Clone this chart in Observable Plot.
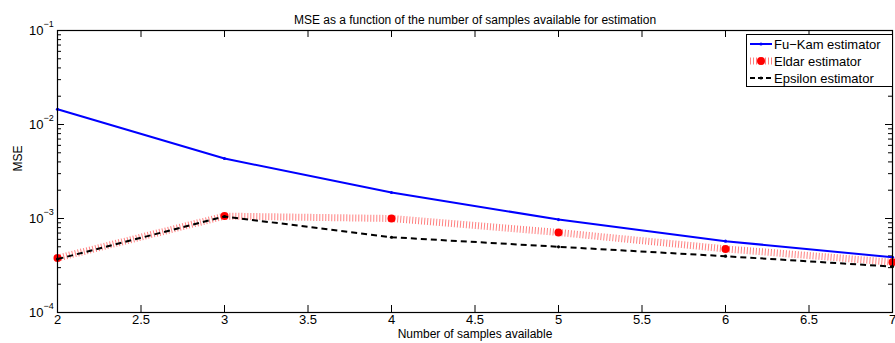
<!DOCTYPE html>
<html>
<head>
<meta charset="utf-8">
<script src="https://cdn.jsdelivr.net/npm/d3@7"></script>
<script src="https://cdn.jsdelivr.net/npm/@observablehq/plot@0.6"></script>
<style>
  body { margin: 0; background: #fff; }
  #wrap { position: relative; width: 895px; height: 343px; font-family: "Liberation Sans", Arial, sans-serif; }
  #legend { position: absolute; left: 746px; top: 34px; }
</style>
</head>
<body>
<div id="wrap"></div>
<script>
const samples = [2, 3, 4, 5, 6, 7];
const fuKam   = [0.0145, 0.00435, 0.00189, 0.000975, 0.000574, 0.000387];
const eldar   = [0.000379, 0.00106, 0.00100, 0.000710, 0.000475, 0.000343];
const epsilon = [0.000370, 0.00105, 0.000632, 0.000500, 0.000397, 0.000308];
const seriesNames = ["Fu\u2212Kam estimator", "Eldar estimator", "Epsilon estimator"];
const xTicks = [2, 2.5, 3, 3.5, 4, 4.5, 5, 5.5, 6, 6.5, 7];
const yTicks = [1e-4, 1e-3, 1e-2, 1e-1];
const yExponents = ["\u22124", "\u22123", "\u22122", "\u22121"];
const titleText = "MSE as a function of the number of samples available for estimation";
const xLabel = "Number of samples available";
const yLabel = "MSE";

const W = 895, H = 343, mL = 57, mR = 3, mT = 30, mB = 31;
const fw = W - mL - mR, fh = H - mT - mB;

const rows = samples.map((s, i) => ({x: s, fuKam: fuKam[i], eldar: eldar[i], epsilon: epsilon[i]}));
const minor = [];
for (let e = -4; e < -1; e++) for (let k = 2; k <= 9; k++) minor.push(k * Math.pow(10, e));
const yTickRows = yTicks.map((v, i) => ({v, e: yExponents[i]}));

const chart = Plot.plot({
  width: W, height: H,
  marginLeft: mL, marginRight: mR, marginTop: mT, marginBottom: mB,
  style: {fontFamily: "'Liberation Sans', Arial, sans-serif", background: "#fff", color: "#000"},
  x: {domain: [2, 7], axis: null},
  y: {type: "log", domain: [1e-4, 1e-1], axis: null},
  marks: [
    // ticks (inward, on all four sides)
    Plot.tickX(xTicks, {x: d => d, insetTop: fh - 7, stroke: "#000", strokeWidth: 1}),
    Plot.tickX(xTicks, {x: d => d, insetBottom: fh - 7, stroke: "#000", strokeWidth: 1}),
    Plot.tickY(yTicks, {y: d => d, insetRight: fw - 7, stroke: "#000", strokeWidth: 1}),
    Plot.tickY(yTicks, {y: d => d, insetLeft: fw - 7, stroke: "#000", strokeWidth: 1}),
    Plot.tickY(minor, {y: d => d, insetRight: fw - 4, stroke: "#000", strokeWidth: 1}),
    Plot.tickY(minor, {y: d => d, insetLeft: fw - 4, stroke: "#000", strokeWidth: 1}),
    // series
    Plot.line(rows, {x: "x", y: "fuKam", stroke: "#0000ff", strokeWidth: 2}),
    Plot.dot(rows, {x: "x", y: "fuKam", r: 1.6, fill: "#0000ff"}),
    Plot.line(rows, {x: "x", y: "eldar", stroke: "#ff8080", strokeWidth: 7, strokeDasharray: "1,2", strokeLinecap: "butt", strokeLinejoin: "miter"}),
    Plot.dot(rows, {x: "x", y: "eldar", r: 4, fill: "#ff0000"}),
    Plot.line(rows, {x: "x", y: "epsilon", stroke: "#000", strokeWidth: 2, strokeDasharray: "6,4", strokeLinecap: "butt"}),
    Plot.dot(rows, {x: "x", y: "epsilon", r: 1.6, fill: "#000"}),
    Plot.frame({stroke: "#000", strokeWidth: 1.2}),
    // axis labels
    Plot.text(xTicks, {x: d => d, text: d => String(d), frameAnchor: "bottom", dy: 11, fontSize: 13}),
    Plot.text(yTickRows, {y: "v", text: () => "10", frameAnchor: "left", dx: -14, textAnchor: "end", fontSize: 13}),
    Plot.text(yTickRows, {y: "v", text: "e", frameAnchor: "left", dx: -14, dy: -6, textAnchor: "start", fontSize: 9}),
    Plot.text([titleText], {text: d => d, frameAnchor: "top", dy: -15, fontSize: 12}),
    Plot.text([xLabel], {text: d => d, frameAnchor: "bottom", dy: 25, fontSize: 12}),
    Plot.text([yLabel], {text: d => d, frameAnchor: "left", dx: -39, rotate: -90, fontSize: 12})
  ]
});
const wrap = document.getElementById("wrap");
wrap.appendChild(chart);

// legend overlay
const lw = 147, lh = 53;
const leg = d3.create("svg").attr("id", "legend").attr("width", lw).attr("height", lh)
  .style("font-family", "'Liberation Sans', Arial, sans-serif");
leg.append("rect").attr("x", 0.5).attr("y", 0.5).attr("width", lw - 1).attr("height", lh - 1)
  .attr("fill", "#fff").attr("stroke", "#000").attr("stroke-width", 1);
const styles = [
  {stroke: "#0000ff", w: 2, dash: null, dot: {r: 1.6, fill: "#0000ff"}},
  {stroke: "#ff8080", w: 7, dash: "1,2", dot: {r: 4, fill: "#ff0000"}},
  {stroke: "#000", w: 2, dash: "5,3", dot: {r: 1.6, fill: "#000"}}
];
seriesNames.forEach((name, i) => {
  const y = 10 + i * 17;
  const s = styles[i];
  const l = leg.append("line").attr("x1", 4).attr("x2", 26).attr("y1", y).attr("y2", y)
    .attr("stroke", s.stroke).attr("stroke-width", s.w);
  if (s.dash) l.attr("stroke-dasharray", s.dash);
  leg.append("circle").attr("cx", 15).attr("cy", y).attr("r", s.dot.r).attr("fill", s.dot.fill);
  leg.append("text").attr("x", 28).attr("y", y).attr("dy", "0.35em").attr("font-size", 13).text(name);
});
wrap.appendChild(leg.node());
</script>
</body>
</html>
